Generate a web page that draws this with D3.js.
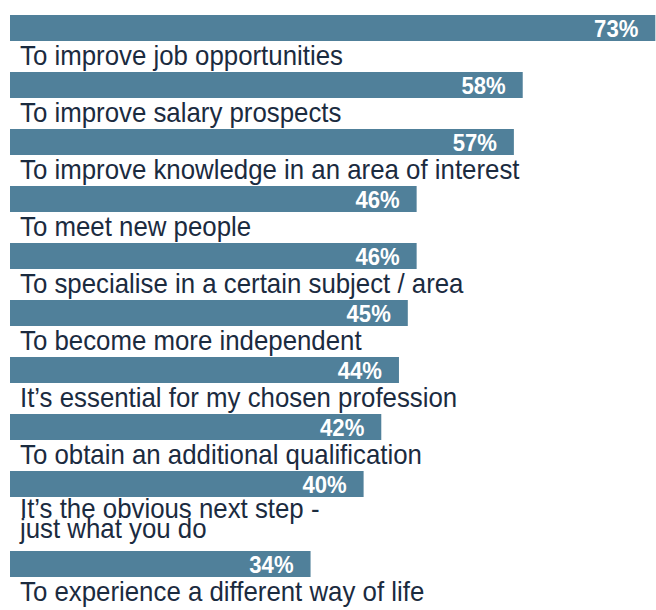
<!DOCTYPE html>
<html>
<head>
<meta charset="utf-8">
<script src="https://cdn.jsdelivr.net/npm/d3@7"></script>
<style>
  html, body { margin: 0; padding: 0; background: #ffffff; }
  svg { display: block; }
</style>
</head>
<body>
<script>
// Reasons for further study, share of respondents (%)
const reasons = [
  "To improve job opportunities",
  "To improve salary prospects",
  "To improve knowledge in an area of interest",
  "To meet new people",
  "To specialise in a certain subject / area",
  "To become more independent",
  "It’s essential for my chosen profession",
  "To obtain an additional qualification",
  "It’s the obvious next step -\njust what you do",
  "To experience a different way of life"
];
const shares = [73, 58, 57, 46, 46, 45, 44, 42, 40, 34];
const valueSuffix = "%";

const width = 656, height = 610;
const barColor = "#50809a";
const textColor = "#1b2b3f";
const fontFamily = "'Liberation Sans', Arial, Helvetica, sans-serif";
// Type is set slightly condensed
const squeezeValue = 0.94;
const squeezeLabel = 0.957;

const svg = d3.select("body").append("svg")
  .attr("width", width)
  .attr("height", height);

const x = d3.scaleLinear().domain([0, 100]).range([10, 894]);

// Each row: a bar, then its caption below; multi-line captions take extra room
const barH = 26, rowStep = 57, extraLine = 23, lineGap = 20;
const rows = [];
let yTop = 15;
reasons.forEach((r, i) => {
  const lines = r.split("\n");
  rows.push({ label: lines, value: shares[i], top: yTop });
  yTop += rowStep + (lines.length - 1) * extraLine;
});

const row = svg.append("g").selectAll("g.row").data(rows).join("g").attr("class", "row");

row.append("rect")
  .attr("x", x(0))
  .attr("y", d => d.top)
  .attr("width", d => x(d.value) - x(0))
  .attr("height", barH)
  .attr("fill", barColor);

row.append("text")
  .attr("transform", `scale(${squeezeValue},1)`)
  .attr("x", d => (x(d.value) - 17) / squeezeValue)
  .attr("y", d => d.top + barH - 4)
  .attr("text-anchor", "end")
  .attr("fill", "#ffffff")
  .attr("font-family", fontFamily)
  .attr("font-weight", "bold")
  .attr("font-size", 23.5)
  .text(d => d.value + valueSuffix);

row.append("text")
  .attr("transform", `scale(${squeezeLabel},1)`)
  .attr("fill", textColor)
  .attr("font-family", fontFamily)
  .attr("font-size", 27)
  .selectAll("tspan")
  .data(d => d.label.map((t, k) => ({ t, k, d })))
  .join("tspan")
  .attr("x", 20 / squeezeLabel)
  .attr("y", o => o.d.label.length > 1
      ? o.d.top + 47 + o.k * lineGap
      : o.d.top + 50)
  .text(o => o.t);
</script>
</body>
</html>
